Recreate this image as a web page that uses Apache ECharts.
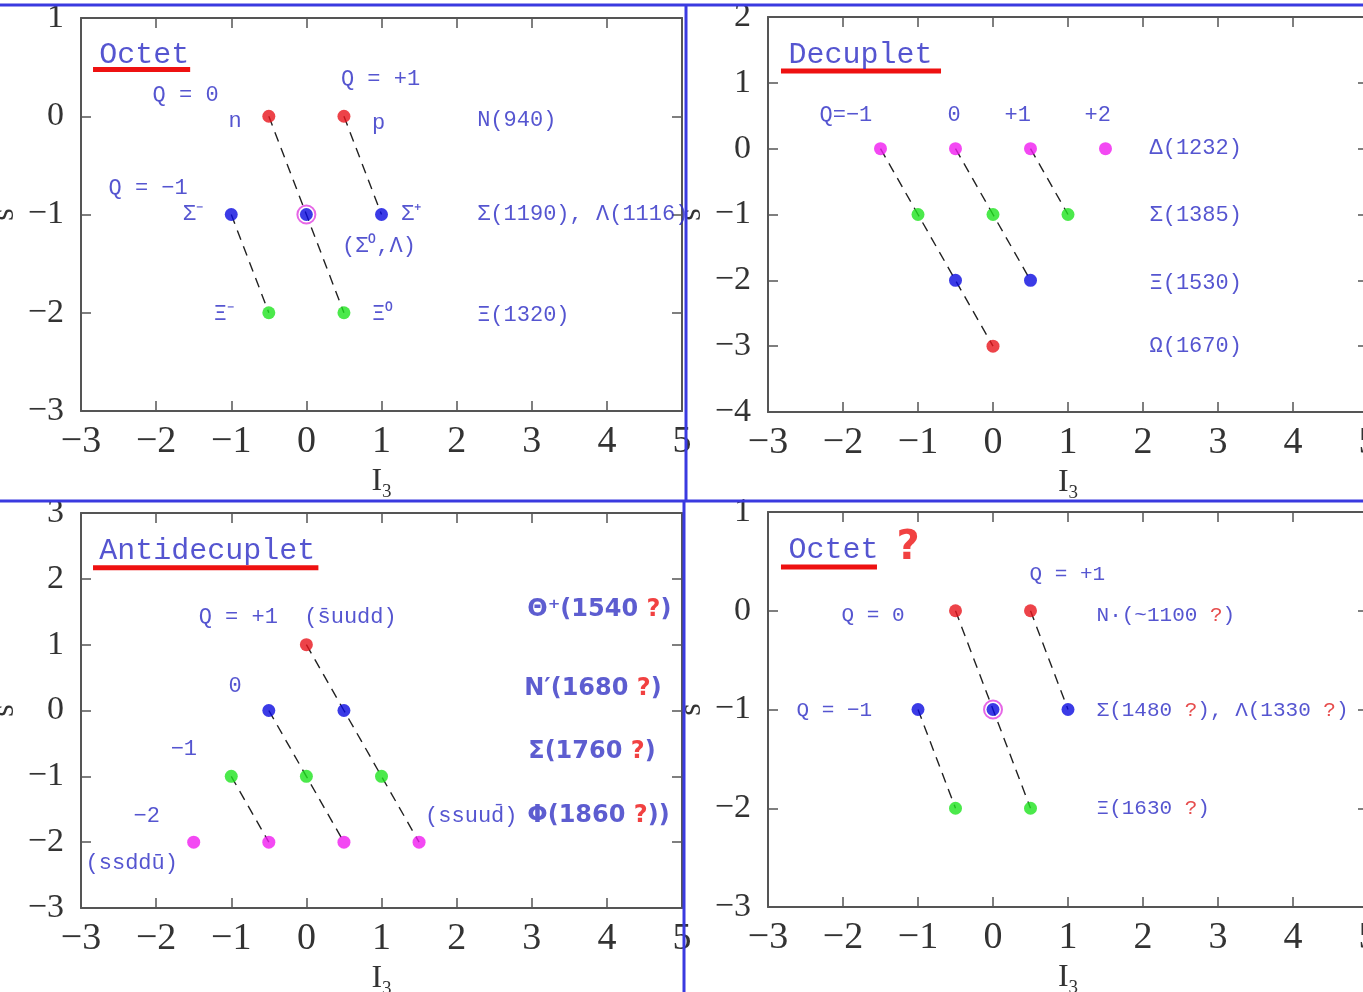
<!DOCTYPE html>
<html><head><meta charset="utf-8">
<script src="https://cdn.jsdelivr.net/npm/echarts@6/dist/echarts.min.js"></script>
<style>html,body{margin:0;padding:0;background:#fff}#c{width:1363px;height:992px}</style>
</head><body><div id="c"></div>
<script>
// ---------- DATA ----------
const xTicks = [-3, 5];
const yRanges = [[-3, 1], [-4, 2], [-3, 3], [-3, 1]];

// Panel 1: baryon octet
const octetPoints = [[-0.5, 0], [0.5, 0], [-1, -1], [0, -1], [1, -1], [-0.5, -2], [0.5, -2]];
const octetColors = ['red', 'red', 'blue', 'blue', 'blue', 'green', 'green'];
const octetChains = [[[-0.5, 0], [0, -1], [0.5, -2]], [[0.5, 0], [1, -1]], [[-1, -1], [-0.5, -2]]];
const octetRing = [[0, -1]];
const octetTitle = [[-2.75, 0.62, 'Octet']];
const octetUnder = [[-2.84, 0.477], [-1.547, 0.477]];
const octetLabels = [
  [-2.04, 0.21, 'Q = 0'], [0.467, 0.376, 'Q = +1'], [-1.03, -0.06, 'n'], [0.88, -0.08, 'p'],
  [2.28, -0.05, 'N(940)'], [-2.627, -0.74, 'Q = \u22121'], [-1.64, -1.0, '\u03a3\u207b'],
  [1.267, -1.0, '\u03a3\u207a'], [2.28, -1.0, '\u03a3(1190), \u039b(1116)'],
  [0.48, -1.33, '(\u03a3\u2070,\u039b)'], [-1.227, -2.02, '\u039e\u207b'], [0.88, -2.02, '\u039e\u2070'],
  [2.28, -2.03, '\u039e(1320)']
];

// Panel 2: decuplet
const decupletPoints = [[-1.5, 0], [-0.5, 0], [0.5, 0], [1.5, 0], [-1, -1], [0, -1], [1, -1], [-0.5, -2], [0.5, -2], [0, -3]];
const decupletColors = ['magenta', 'magenta', 'magenta', 'magenta', 'green', 'green', 'green', 'blue', 'blue', 'red'];
const decupletChains = [[[-1.5, 0], [-1, -1], [-0.5, -2], [0, -3]], [[-0.5, 0], [0, -1], [0.5, -2]], [[0.5, 0], [1, -1]]];
const decupletTitle = [[-2.72, 1.41, 'Decuplet']];
const decupletUnder = [[-2.827, 1.18], [-0.693, 1.18]];
const decupletLabels = [
  [-2.307, 0.5, 'Q=\u22121'], [-0.6, 0.5, '0'], [0.16, 0.5, '+1'], [1.227, 0.5, '+2'],
  [2.093, 0.0, '\u0394(1232)'], [2.093, -1.015, '\u03a3(1385)'], [2.093, -2.045, '\u039e(1530)'],
  [2.093, -3.015, '\u03a9(1670)']
];

// Panel 3: antidecuplet
const antiPoints = [[0, 1], [-0.5, 0], [0.5, 0], [-1, -1], [0, -1], [1, -1], [-1.5, -2], [-0.5, -2], [0.5, -2], [1.5, -2]];
const antiColors = ['red', 'blue', 'blue', 'green', 'green', 'green', 'magenta', 'magenta', 'magenta', 'magenta'];
const antiChains = [[[0, 1], [0.5, 0], [1, -1], [1.5, -2]], [[-0.5, 0], [0, -1], [0.5, -2]], [[-1, -1], [-0.5, -2]]];
const antiTitle = [[-2.75, 2.41, 'Antidecuplet']];
const antiUnder = [[-2.84, 2.167], [0.16, 2.167]];
const antiLabels = [
  [-1.427, 1.41, 'Q = +1  (s\u0304uudd)'], [-1.03, 0.36, '0'], [-1.8, -0.59, '\u22121'],
  [-2.293, -1.62, '\u22122'], [-2.933, -2.33, '(ssddu\u0304)'], [1.587, -1.62, '(ssuud\u0304)']
];
const antiBold = [
  [2.947, 1.515, '\u0398\u207a(1540 ?)'], [2.907, 0.318, 'N\u2032(1680 ?)'],
  [2.96, -0.636, '\u03a3(1760 ?)'], [2.947, -1.606, '\u03a6(1860 ?))']
];

// Panel 4: hypothetical octet
const octet2Points = octetPoints;
const octet2Colors = octetColors;
const octet2Chains = octetChains;
const octet2Title = [[-2.72, 0.606, 'Octet']];
const octet2Mark = [[-1.28, 0.626, '?']];
const octet2Under = [[-2.827, 0.444], [-1.547, 0.444]];
const octet2Labels = [
  [0.493, 0.364, 'Q = +1'], [-2.013, -0.05, 'Q = 0'], [1.387, -0.05, 'N\u00b7(~1100 ?)'],
  [-2.613, -1.01, 'Q = \u22121'], [1.387, -1.01, '\u03a3(1480 ?), \u039b(1330 ?)'],
  [1.387, -2.01, '\u039e(1630 ?)']
];

// ---------- STYLE ----------
const COL = { red: '#e8141c', green: '#1ee41e', blue: '#0a0ae0', magenta: '#f01cf0' };
const BLUE_TXT = '#2a2ac4';
const grids = [
  { left: 81, top: 18, width: 601, height: 393 },
  { left: 768, top: 17, width: 600, height: 395 },
  { left: 81, top: 513, width: 601, height: 395 },
  { left: 768, top: 512, width: 600, height: 395 }
].map(g => Object.assign(g, { containLabel: false, outerBoundsMode: 'none' }));
const fmt = v => (v < 0 ? '\u2212' + (-v) : String(v));
const frame = { show: true, onZero: false, lineStyle: { color: '#555', width: 2 } };
const tick = { inside: true, length: 10, lineStyle: { color: '#555', width: 1.5 } };
const xAxes = [], yAxes = [];
grids.forEach((g, i) => {
  xAxes.push({
    type: 'value', gridIndex: i, min: xTicks[0], max: xTicks[1], interval: 1, position: 'bottom',
    axisLine: frame, axisTick: tick,
    splitLine: { show: false }, showMinLabel: true, showMaxLabel: true,
    axisLabel: { formatter: fmt, fontFamily: 'Liberation Serif', fontSize: 38, color: '#333', margin: 12 },
    name: '{i|I}{s|3}', nameLocation: 'middle', nameGap: 50,
    nameTextStyle: { rich: { i: { fontFamily: 'Liberation Serif', fontSize: 32, color: '#333' },
      s: { fontFamily: 'Liberation Serif', fontSize: 19, color: '#333', padding: [22, 0, 0, 0] } } }
  });
  xAxes.push({
    type: 'value', gridIndex: i, min: xTicks[0], max: xTicks[1], interval: 1, position: 'top',
    axisLine: frame, axisTick: tick,
    splitLine: { show: false }, axisLabel: { show: false }
  });
  yAxes.push({
    type: 'value', gridIndex: i, min: yRanges[i][0], max: yRanges[i][1], interval: 1, position: 'left',
    axisLine: frame, axisTick: tick,
    splitLine: { show: false }, showMinLabel: true, showMaxLabel: true,
    axisLabel: { formatter: fmt, fontFamily: 'Liberation Serif', fontSize: 34, color: '#333', margin: 17 },
    name: 's', nameLocation: 'middle', nameGap: 60, nameRotate: 90,
    nameTextStyle: { fontFamily: 'Liberation Serif', fontSize: 32, color: '#333' }
  });
  yAxes.push({
    type: 'value', gridIndex: i, min: yRanges[i][0], max: yRanges[i][1], interval: 1, position: 'right',
    axisLine: frame, axisTick: tick,
    splitLine: { show: false }, axisLabel: { show: false }
  });
});

const series = [];
const ax = i => ({ xAxisIndex: 2 * i, yAxisIndex: 2 * i });
function addChains(i, chains) {
  chains.forEach(c => series.push(Object.assign({
    type: 'line', data: c, symbol: 'none', silent: true, z: 2,
    lineStyle: { color: '#222', width: 1.4, type: [10, 7] }
  }, ax(i))));
}
function addUnder(i, seg) {
  series.push(Object.assign({
    type: 'line', data: seg, symbol: 'none', silent: true, z: 2,
    lineStyle: { color: '#ee1111', width: 5 }
  }, ax(i)));
}
function addPoints(i, pts, cols) {
  series.push(Object.assign({
    type: 'scatter', symbolSize: 13, z: 4,
    data: pts.map((p, k) => ({ value: p, itemStyle: { color: COL[cols[k]] } }))
  }, ax(i)));
}
function addRing(i, pts) {
  series.push(Object.assign({
    type: 'scatter', symbolSize: 18, z: 3, data: pts,
    itemStyle: { color: 'rgba(0,0,0,0)', borderColor: '#e040e0', borderWidth: 2 }
  }, ax(i)));
}
const richMono = (size) => ({
  m: { fontFamily: 'Liberation Mono', fontSize: size, color: BLUE_TXT },
  r: { fontFamily: 'Liberation Mono', fontSize: size, color: '#e02020' }
});
function addLabels(i, labels, rich) {
  series.push(Object.assign({
    type: 'scatter', symbolSize: 1, z: 5, silent: true,
    itemStyle: { color: 'rgba(0,0,0,0)' },
    data: labels.map(l => ({ value: [l[0], l[1]], t: l[2] })),
    label: {
      show: true, position: [0, 0], align: 'left', verticalAlign: 'middle',
      formatter: p => '{m|' + p.data.t.replace(/\?/g, '}{r|?}{m|') + '}',
      rich: rich
    }
  }, ax(i)));
}

// panel 1
addUnder(0, octetUnder); addChains(0, octetChains); addRing(0, octetRing);
addPoints(0, octetPoints, octetColors);
addLabels(0, octetTitle, richMono(30)); addLabels(0, octetLabels, richMono(22));
// panel 2
addUnder(1, decupletUnder); addChains(1, decupletChains);
addPoints(1, decupletPoints, decupletColors);
addLabels(1, decupletTitle, richMono(30)); addLabels(1, decupletLabels, richMono(22));
// panel 3
addUnder(2, antiUnder); addChains(2, antiChains);
addPoints(2, antiPoints, antiColors);
addLabels(2, antiTitle, richMono(30)); addLabels(2, antiLabels, richMono(22));
addLabels(2, antiBold, {
  m: { fontFamily: 'DejaVu Sans', fontWeight: 'bold', fontSize: 24, color: '#3434c4' },
  r: { fontFamily: 'DejaVu Sans', fontWeight: 'bold', fontSize: 24, color: '#ee1111' }
});
// panel 4
addUnder(3, octet2Under); addChains(3, octet2Chains); addRing(3, octetRing);
addPoints(3, octet2Points, octet2Colors);
addLabels(3, octet2Title, richMono(30)); addLabels(3, octet2Labels, richMono(21));
addLabels(3, octet2Mark, {
  m: { fontFamily: 'DejaVu Sans', fontWeight: 'bold', fontSize: 40, color: '#ee1111' },
  r: { fontFamily: 'DejaVu Sans', fontWeight: 'bold', fontSize: 40, color: '#ee1111' }
});

const SEP = { stroke: '#3a3ae0', lineWidth: 3 };
const chart = echarts.init(document.getElementById('c'), null, { renderer: 'canvas' });
chart.setOption({
  backgroundColor: '#fff', animation: false,
  grid: grids, xAxis: xAxes, yAxis: yAxes, series: series,
  graphic: [
    { type: 'line', shape: { x1: 0, y1: 5, x2: 1363, y2: 5 }, style: SEP, z: 100 },
    { type: 'line', shape: { x1: 0, y1: 501, x2: 1363, y2: 501 }, style: SEP, z: 100 },
    { type: 'line', shape: { x1: 686, y1: 5, x2: 686, y2: 501 }, style: SEP, z: 100 },
    { type: 'line', shape: { x1: 684, y1: 501, x2: 684, y2: 992 }, style: SEP, z: 100 }
  ]
});
</script></body></html>
